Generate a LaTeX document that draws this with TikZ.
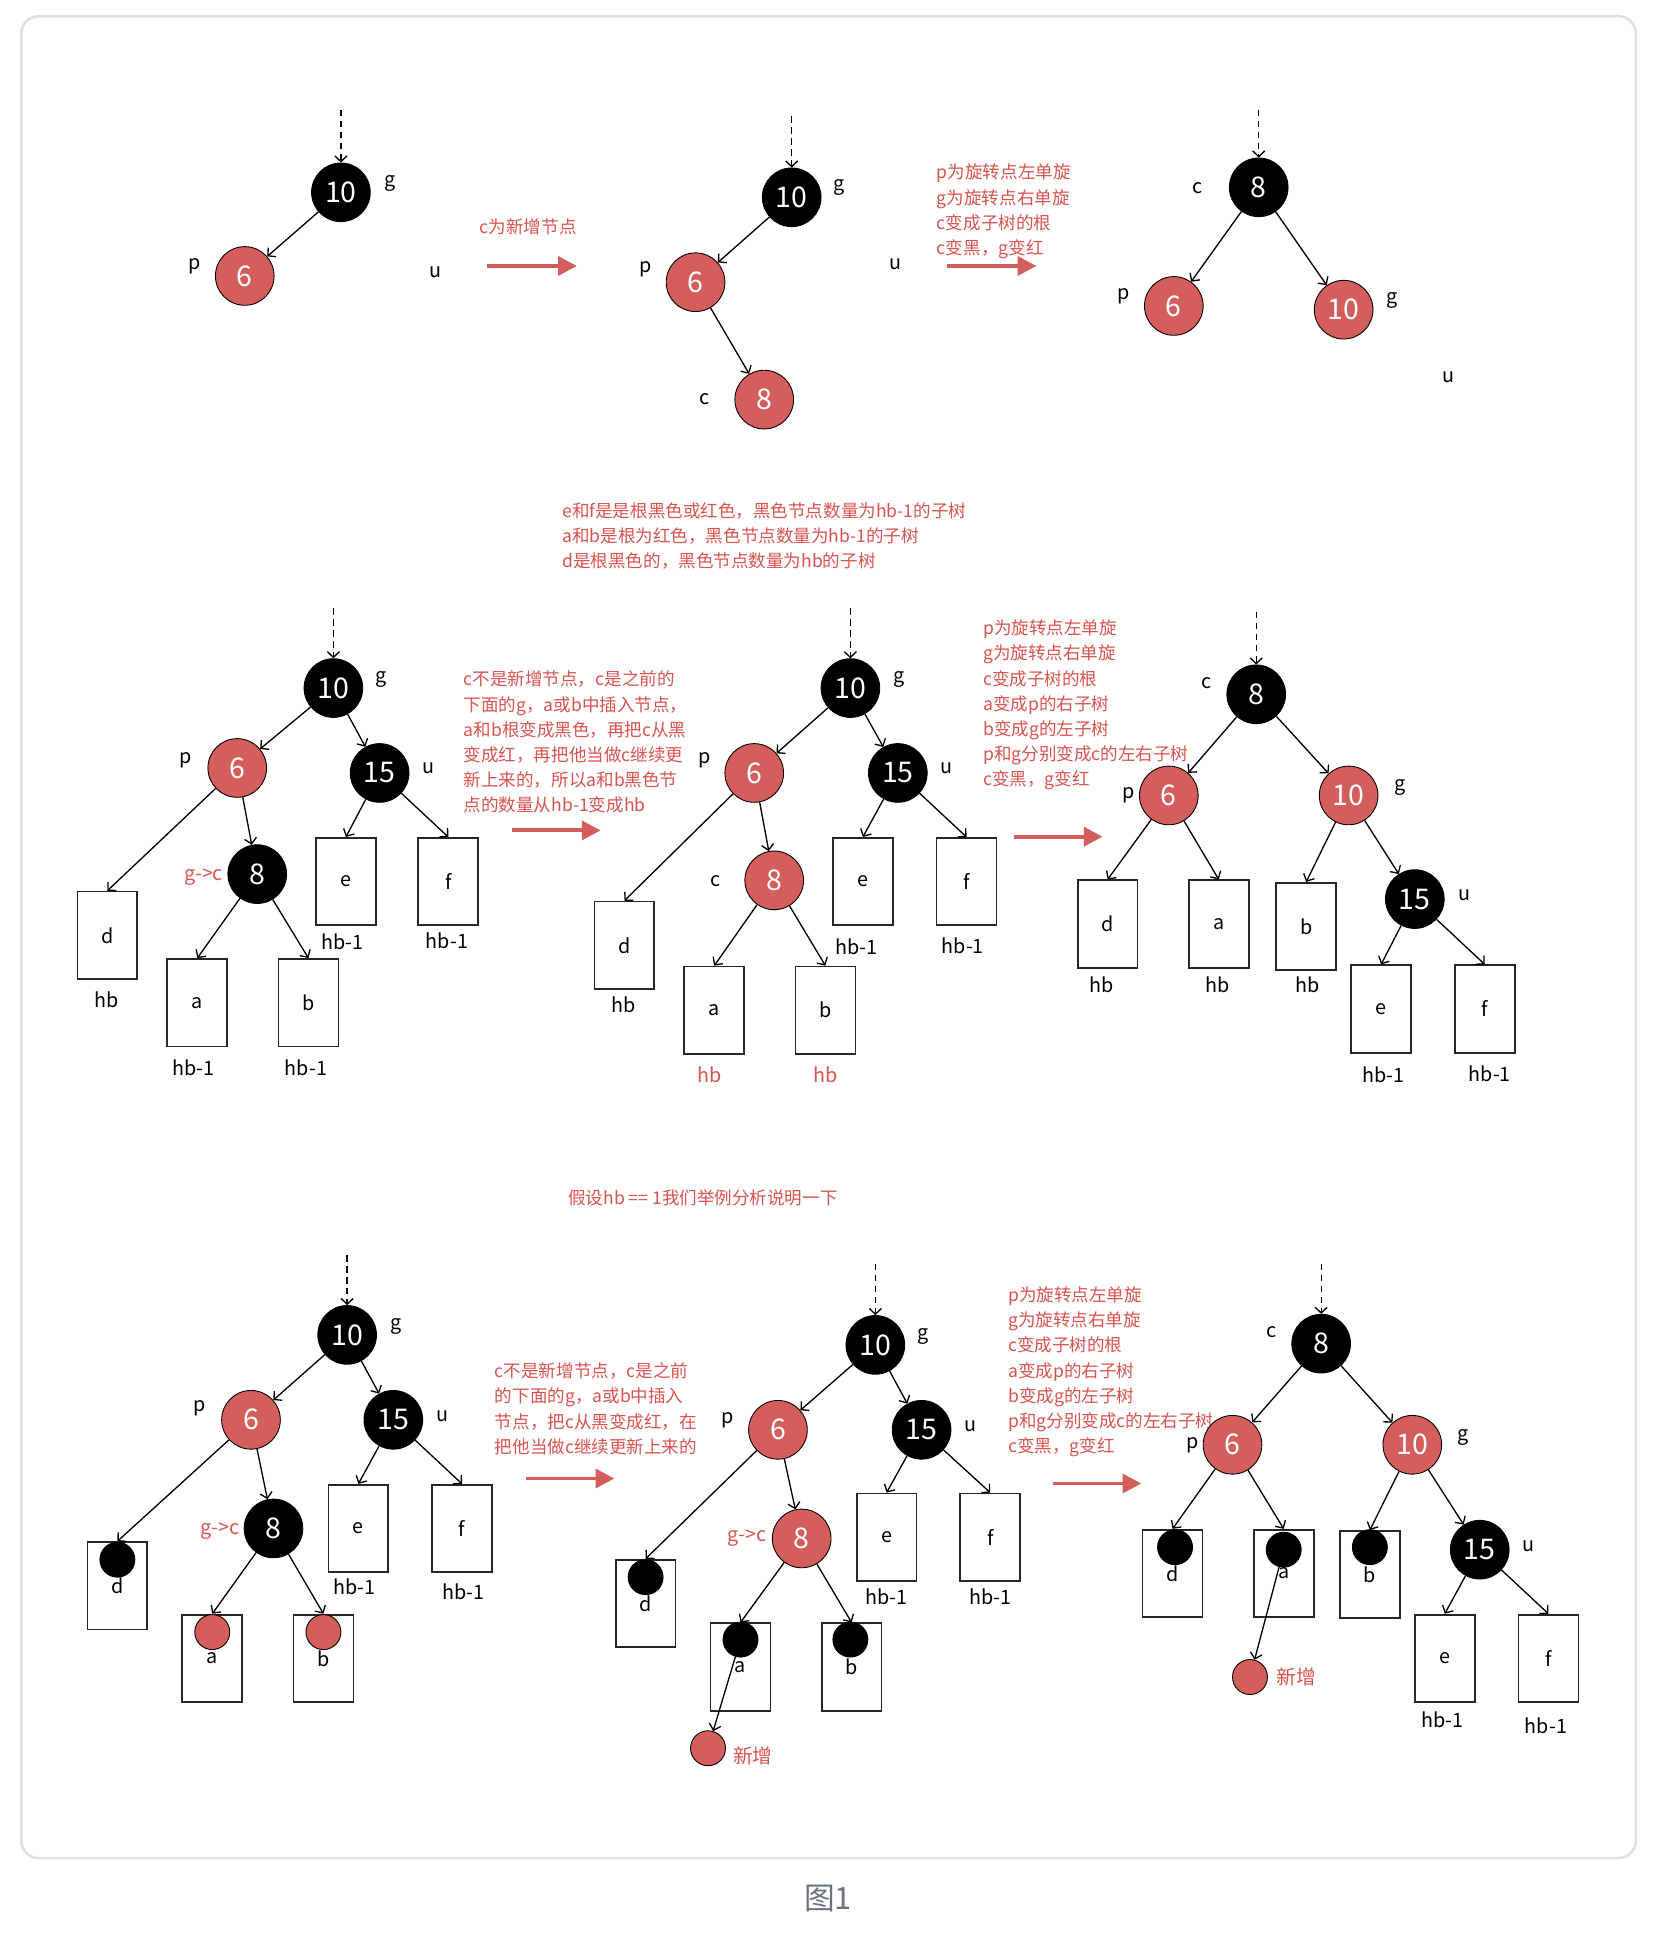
\documentclass[tikz,border=0pt]{standalone}
\usepackage{fontspec}
\setmainfont{Noto Sans CJK SC}
\usetikzlibrary{arrows.meta}
\definecolor{rbred}{RGB}{212,94,91}
\definecolor{txtred}{RGB}{217,83,79}
\definecolor{framegray}{RGB}{224,224,230}
\definecolor{capgray}{RGB}{107,114,128}

\begin{document}
\begin{tikzpicture}[x=0.02cm, y=-0.02cm, >={Straight Barb[length=2.6pt, width=5.5pt]}, font=\fontsize{9}{11}\selectfont,
  bnode/.style={circle, draw=black, fill=black, text=white, minimum size=0.94cm, inner sep=0pt, font=\fontsize{13}{15}\selectfont},
  rnode/.style={bnode, fill=rbred},
  sub/.style={draw=black!85, line width=0.8pt, minimum width=0.96cm, minimum height=1.4cm, inner sep=0pt},
  bdot/.style={circle, draw=black, fill=black, minimum size=0.56cm, inner sep=0pt},
  rdot/.style={bdot, fill=rbred},
  tag/.style={inner sep=1pt},
  rtag/.style={tag, text=txtred},
  note/.style={text=txtred, align=left, anchor=north west, inner sep=0pt, font=\fontsize{8}{11.5}\selectfont},
  edge/.style={->, line width=0.6pt},
  turn/.style={draw=rbred, line width=1.8pt, -{Triangle[length=0.3cm, width=0.3cm]}}]
  \useasboundingbox (0,0) rectangle (1345,1568);
  \draw[framegray, line width=1.2pt, rounded corners=8pt] (17,13) rectangle (1310,1488);
  \node[font=\fontsize{14}{16}\selectfont, text=capgray] (cap) at (663,1520) {图1};

  % ---- row 1: c is the new node
  \coordinate (in11) at (273,88);
  \node[bnode] (g11) at (273,154) {10};
  \node[rnode] (p11) at (196,221) {6};
  \node[tag] (lg11) at (312,147) {g};
  \node[tag] (lp11) at (156,213) {p};
  \node[tag] (lu11) at (349,218) {u};
  \draw[edge, densely dashed] (in11) -- (g11);
  \draw[edge] (g11) -- (p11);

  \node[note, anchor=center] (n11) at (423,182) {c为新增节点};
  \coordinate (s11) at (390,213);
  \coordinate (t11) at (462,213);
  \draw[turn] (s11) -- (t11);

  \coordinate (in12) at (634,93);
  \node[bnode] (g12) at (634,158) {10};
  \node[rnode] (p12) at (557,226) {6};
  \node[rnode] (c12) at (612,320) {8};
  \node[tag] (lg12) at (672,150) {g};
  \node[tag] (lp12) at (517,216) {p};
  \node[tag] (lc12) at (564,320) {c};
  \node[tag] (lu12) at (717,212) {u};
  \draw[edge, densely dashed] (in12) -- (g12);
  \draw[edge] (g12) -- (p12);
  \draw[edge] (p12) -- (c12);

  \node[note] (n12) at (750,131) {p为旋转点左单旋\\g为旋转点右单旋\\c变成子树的根\\c变黑，g变红};
  \coordinate (s12) at (758,213);
  \coordinate (t12) at (830,213);
  \draw[turn] (s12) -- (t12);

  \coordinate (in13) at (1008,88);
  \node[bnode] (c13) at (1008,150) {8};
  \node[rnode] (p13) at (940,245) {6};
  \node[rnode] (g13) at (1076,248) {10};
  \node[tag] (lc13) at (959,151) {c};
  \node[tag] (lp13) at (900,237) {p};
  \node[tag] (lg13) at (1115,241) {g};
  \node[tag] (lu13) at (1160,302) {u};
  \draw[edge, densely dashed] (in13) -- (c13);
  \draw[edge] (c13) -- (p13);
  \draw[edge] (c13) -- (g13);

  % ---- row 2: c was the old g
  \node[note] (n20) at (450,402) {e和f是是根黑色或红色，黑色节点数量为hb-1的子树\\a和b是根为红色，黑色节点数量为hb-1的子树\\d是根黑色的，黑色节点数量为hb的子树};

  \coordinate (in21) at (267,487);
  \node[bnode] (g21) at (267,551) {10};
  \node[rnode] (p21) at (190,615) {6};
  \node[bnode] (u21) at (304,619) {15};
  \node[bnode] (c21) at (206,700) {8};
  \node[sub] (d21) at (86,749) {d};
  \node[sub] (a21) at (158,803) {a};
  \node[sub] (b21) at (247,803) {b};
  \node[sub] (e21) at (277,706) {e};
  \node[sub] (f21) at (359,706) {f};
  \node[tag] (lg21) at (305,544) {g};
  \node[tag] (lp21) at (149,609) {p};
  \node[tag] (lu21) at (343,615) {u};
  \node[rtag] (lc21) at (163,702) {g->c};
  \node[tag] (hd21) at (85,801) {hb};
  \node[tag] (ha21) at (155,855) {hb-1};
  \node[tag] (hbb21) at (245,855) {hb-1};
  \node[tag] (he21) at (274,754) {hb-1};
  \node[tag] (hf21) at (358,753) {hb-1};
  \draw[edge, densely dashed] (in21) -- (g21);
  \draw[edge] (g21) -- (p21);
  \draw[edge] (g21) -- (u21);
  \draw[edge] (p21) -- (d21.north);
  \draw[edge] (p21) -- (c21);
  \draw[edge] (c21) -- (a21.north);
  \draw[edge] (c21) -- (b21.north);
  \draw[edge] (u21) -- (e21.north);
  \draw[edge] (u21) -- (f21.north);

  \node[note] (n21) at (371,537) {c不是新增节点，c是之前的\\下面的g，a或b中插入节点，\\a和b根变成黑色，再把c从黑\\变成红，再把他当做c继续更\\新上来的，所以a和b黑色节\\点的数量从hb-1变成hb};
  \coordinate (s21) at (410,665);
  \coordinate (t21) at (481,665);
  \draw[turn] (s21) -- (t21);

  \coordinate (in22) at (681,487);
  \node[bnode] (g22) at (681,551) {10};
  \node[rnode] (p22) at (604,619) {6};
  \node[bnode] (u22) at (719,619) {15};
  \node[rnode] (c22) at (620,705) {8};
  \node[sub] (d22) at (500,757) {d};
  \node[sub] (a22) at (572,809) {a};
  \node[sub] (b22) at (661,809) {b};
  \node[sub] (e22) at (691,706) {e};
  \node[sub] (f22) at (774,706) {f};
  \node[tag] (lg22) at (720,544) {g};
  \node[tag] (lp22) at (564,609) {p};
  \node[tag] (lu22) at (758,615) {u};
  \node[tag] (lc22) at (573,706) {c};
  \node[tag] (hd22) at (499,805) {hb};
  \node[rtag] (ha22) at (568,861) {hb};
  \node[rtag] (hbb22) at (661,861) {hb};
  \node[tag] (he22) at (686,758) {hb-1};
  \node[tag] (hf22) at (771,757) {hb-1};
  \draw[edge, densely dashed] (in22) -- (g22);
  \draw[edge] (g22) -- (p22);
  \draw[edge] (g22) -- (u22);
  \draw[edge] (p22) -- (d22.north);
  \draw[edge] (p22) -- (c22);
  \draw[edge] (c22) -- (a22.north);
  \draw[edge] (c22) -- (b22.north);
  \draw[edge] (u22) -- (e22.north);
  \draw[edge] (u22) -- (f22.north);

  \node[note] (n22) at (787,496) {p为旋转点左单旋\\g为旋转点右单旋\\c变成子树的根\\a变成p的右子树\\b变成g的左子树\\p和g分别变成c的左右子树\\c变黑，g变红};
  \coordinate (s22) at (812,670);
  \coordinate (t22) at (883,670);
  \draw[turn] (s22) -- (t22);

  \coordinate (in23) at (1006,490);
  \node[bnode] (c23) at (1006,556) {8};
  \node[rnode] (p23) at (936,637) {6};
  \node[rnode] (g23) at (1080,637) {10};
  \node[bnode] (u23) at (1133,720) {15};
  \node[sub] (d23) at (887,740) {d};
  \node[sub] (a23) at (976,740) {a};
  \node[sub] (b23) at (1046,742) {b};
  \node[sub] (e23) at (1106,808) {e};
  \node[sub] (f23) at (1189,808) {f};
  \node[tag] (lc23) at (966,547) {c};
  \node[tag] (lp23) at (904,637) {p};
  \node[tag] (lg23) at (1121,631) {g};
  \node[tag] (lu23) at (1173,717) {u};
  \node[tag] (hd23) at (882,789) {hb};
  \node[tag] (ha23) at (975,789) {hb};
  \node[tag] (hbb23) at (1047,789) {hb};
  \node[tag] (he23) at (1108,861) {hb-1};
  \node[tag] (hf23) at (1193,860) {hb-1};
  \draw[edge, densely dashed] (in23) -- (c23);
  \draw[edge] (c23) -- (p23);
  \draw[edge] (c23) -- (g23);
  \draw[edge] (p23) -- (d23.north);
  \draw[edge] (p23) -- (a23.north);
  \draw[edge] (g23) -- (b23.north);
  \draw[edge] (g23) -- (u23);
  \draw[edge] (u23) -- (e23.north);
  \draw[edge] (u23) -- (f23.north);

  % ---- row 3: hb == 1
  \node[note, anchor=center] (n30) at (563,959) {假设hb == 1我们举例分析说明一下};

  \coordinate (in31) at (278,1005);
  \node[bnode] (g31) at (278,1069) {10};
  \node[rnode] (p31) at (201,1137) {6};
  \node[bnode] (u31) at (315,1137) {15};
  \node[bnode] (c31) at (219,1224) {8};
  \node[sub] (d31) at (94,1270) {d};
  \node[sub] (a31) at (170,1328) {a};
  \node[sub] (b31) at (259,1328) {b};
  \node[sub] (e31) at (287,1224) {e};
  \node[sub] (f31) at (370,1224) {f};
  \node[bdot] (dd31) at (94,1249) {};
  \node[rdot] (da31) at (170,1307) {};
  \node[rdot] (db31) at (259,1307) {};
  \node[tag] (lg31) at (317,1062) {g};
  \node[tag] (lp31) at (160,1128) {p};
  \node[tag] (lu31) at (354,1134) {u};
  \node[rtag] (lc31) at (176,1226) {g->c};
  \node[tag] (he31) at (284,1271) {hb-1};
  \node[tag] (hf31) at (371,1275) {hb-1};
  \draw[edge, densely dashed] (in31) -- (g31);
  \draw[edge] (g31) -- (p31);
  \draw[edge] (g31) -- (u31);
  \draw[edge] (p31) -- (d31.north);
  \draw[edge] (p31) -- (c31);
  \draw[edge] (c31) -- (a31.north);
  \draw[edge] (c31) -- (b31.north);
  \draw[edge] (u31) -- (e31.north);
  \draw[edge] (u31) -- (f31.north);

  \node[note] (n31) at (396,1091) {c不是新增节点，c是之前\\的下面的g，a或b中插入\\节点，把c从黑变成红，在\\把他当做c继续更新上来的};
  \coordinate (s31) at (421,1184);
  \coordinate (t31) at (492,1184);
  \draw[turn] (s31) -- (t31);

  \coordinate (in32) at (701,1012);
  \node[bnode] (g32) at (701,1077) {10};
  \node[rnode] (p32) at (623,1145) {6};
  \node[bnode] (u32) at (738,1145) {15};
  \node[rnode] (c32) at (642,1232) {8};
  \node[sub] (d32) at (517,1284) {d};
  \node[sub] (a32) at (593,1335) {a};
  \node[sub] (b32) at (682,1335) {b};
  \node[sub] (e32) at (710,1231) {e};
  \node[sub] (f32) at (793,1231) {f};
  \node[bdot] (dd32) at (517,1263) {};
  \node[bdot] (da32) at (593,1313) {};
  \node[bdot] (db32) at (681,1313) {};
  \node[rdot] (new32) at (567,1400) {};
  \node[rtag] (lnew32) at (603,1406) {新增};
  \node[tag] (lg32) at (739,1070) {g};
  \node[tag] (lp32) at (583,1137) {p};
  \node[tag] (lu32) at (777,1142) {u};
  \node[rtag] (lc32) at (598,1232) {g->c};
  \node[tag] (he32) at (710,1279) {hb-1};
  \node[tag] (hf32) at (793,1279) {hb-1};
  \draw[edge, densely dashed] (in32) -- (g32);
  \draw[edge] (g32) -- (p32);
  \draw[edge] (g32) -- (u32);
  \draw[edge] (p32) -- (d32.north);
  \draw[edge] (p32) -- (c32);
  \draw[edge] (c32) -- (a32.north);
  \draw[edge] (c32) -- (b32.north);
  \draw[edge] (u32) -- (e32.north);
  \draw[edge] (u32) -- (f32.north);
  \draw[edge] (da32) -- (new32);

  \node[note] (n32) at (807,1030) {p为旋转点左单旋\\g为旋转点右单旋\\c变成子树的根\\a变成p的右子树\\b变成g的左子树\\p和g分别变成c的左右子树\\c变黑，g变红};
  \coordinate (s32) at (843,1188);
  \coordinate (t32) at (914,1188);
  \draw[turn] (s32) -- (t32);

  \coordinate (in33) at (1058,1012);
  \node[bnode] (c33) at (1058,1076) {8};
  \node[rnode] (p33) at (987,1157) {6};
  \node[rnode] (g33) at (1131,1157) {10};
  \node[bnode] (u33) at (1185,1241) {15};
  \node[sub] (d33) at (939,1260) {d};
  \node[sub] (a33) at (1028,1260) {a};
  \node[sub] (b33) at (1097,1261) {b};
  \node[sub] (e33) at (1157,1328) {e};
  \node[sub] (f33) at (1240,1328) {f};
  \node[bdot] (dd33) at (941,1239) {};
  \node[bdot] (da33) at (1028,1241) {};
  \node[bdot] (db33) at (1097,1239) {};
  \node[rdot] (new33) at (1001,1343) {};
  \node[rtag] (lnew33) at (1038,1343) {新增};
  \node[tag] (lc33) at (1018,1067) {c};
  \node[tag] (lp33) at (955,1157) {p};
  \node[tag] (lg33) at (1172,1151) {g};
  \node[tag] (lu33) at (1224,1238) {u};
  \node[tag] (he33) at (1155,1377) {hb-1};
  \node[tag] (hf33) at (1238,1382) {hb-1};
  \draw[edge, densely dashed] (in33) -- (c33);
  \draw[edge] (c33) -- (p33);
  \draw[edge] (c33) -- (g33);
  \draw[edge] (p33) -- (d33.north);
  \draw[edge] (p33) -- (a33.north);
  \draw[edge] (g33) -- (b33.north);
  \draw[edge] (g33) -- (u33);
  \draw[edge] (u33) -- (e33.north);
  \draw[edge] (u33) -- (f33.north);
  \draw[edge] (da33) -- (new33);
\end{tikzpicture}
\end{document}
